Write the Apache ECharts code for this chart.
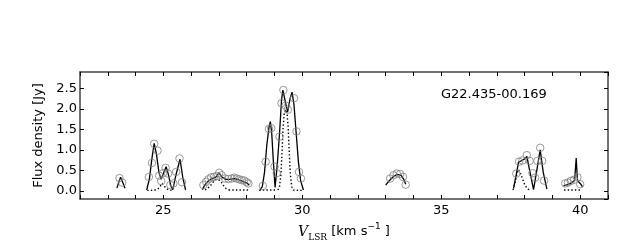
<!DOCTYPE html>
<html>
<head>
<meta charset="utf-8">
<script src="https://cdn.jsdelivr.net/npm/echarts@6/dist/echarts.min.js"></script>
<style>html,body{margin:0;padding:0;background:#fff;}#c{width:640px;height:240px;}</style>
</head>
<body>
<div id="c"></div>
<script>
// Observed spectrum channels (gray circles): [V_LSR km/s, flux Jy]
const obsG1 = [[23.42,0.31],[23.52,0.20]];
const obsG2 = [[24.48,0.34],[24.59,0.68],[24.67,1.15],[24.79,0.98],[24.85,0.37],[24.92,0.24],[24.99,0.43],[25.08,0.56],[25.17,0.42],[25.25,0.14],[25.36,0.18],[25.46,0.46],[25.58,0.79],[25.67,0.21]];
const obsG3 = [[26.44,0.14],[26.54,0.22],[26.62,0.28],[26.72,0.33],[26.82,0.34],[26.92,0.36],[27.01,0.44],[27.10,0.38],[27.22,0.30],[27.34,0.29],[27.46,0.30],[27.55,0.32],[27.64,0.30],[27.73,0.28],[27.82,0.26],[27.91,0.25],[28.00,0.21],[28.06,0.18]];
const obsG4 = [[28.58,0.12],[28.68,0.71],[28.80,1.51],[28.88,1.53],[29.00,0.59],[29.08,0.43],[29.18,1.32],[29.25,2.14],[29.32,2.46],[29.40,2.08],[29.48,1.98],[29.70,2.26],[29.79,1.45],[29.88,0.46],[29.95,0.30]];
const obsG5 = [[33.16,0.30],[33.28,0.38],[33.40,0.42],[33.52,0.41],[33.62,0.34],[33.72,0.15]];
const obsG6 = [[37.70,0.42],[37.80,0.71],[37.92,0.74],[38.08,0.87],[38.18,0.73],[38.28,0.43],[38.38,0.32],[38.46,0.73],[38.56,1.05],[38.63,0.73],[38.70,0.25]];
const obsG7 = [[39.46,0.18],[39.56,0.20],[39.66,0.24],[39.78,0.27],[39.90,0.33],[40.00,0.16]];

// Gaussian fit (solid black)
const fitG1 = [[23.33,0.07],[23.40,0.22],[23.46,0.33],[23.53,0.22],[23.62,0.06]];
const fitG2 = [[24.40,0.02],[24.50,0.30],[24.58,0.75],[24.67,1.16],[24.75,0.90],[24.84,0.45],[24.92,0.28],[25.00,0.42],[25.10,0.59],[25.18,0.40],[25.27,0.12],[25.34,0.03],[25.45,0.38],[25.60,0.77],[25.70,0.32],[25.80,0.02]];
const fitG3 = [[26.40,0.03],[26.50,0.15],[26.62,0.24],[26.75,0.30],[26.88,0.33],[27.00,0.44],[27.12,0.33],[27.25,0.28],[27.40,0.28],[27.55,0.30],[27.70,0.27],[27.85,0.23],[28.00,0.19],[28.09,0.14]];
const fitG4 = [[28.48,0.02],[28.56,0.10],[28.64,0.45],[28.72,1.10],[28.80,1.55],[28.85,1.69],[28.90,1.40],[28.96,0.70],[29.02,0.08],[29.10,0.65],[29.18,1.40],[29.25,2.20],[29.30,2.46],[29.38,2.20],[29.47,1.92],[29.56,2.25],[29.63,2.41],[29.70,2.10],[29.78,1.40],[29.86,0.70],[29.94,0.25],[30.04,0.02]];
const fitG5 = [[33.00,0.14],[33.12,0.24],[33.25,0.33],[33.40,0.40],[33.55,0.38],[33.65,0.28],[33.72,0.16]];
const fitG6 = [[37.60,0.06],[37.70,0.40],[37.78,0.70],[37.90,0.74],[38.00,0.78],[38.08,0.84],[38.18,0.50],[38.32,0.03],[38.45,0.55],[38.56,1.00],[38.67,0.45],[38.80,0.04]];
const fitG7 = [[39.40,0.12],[39.55,0.15],[39.70,0.20],[39.80,0.26],[39.855,0.80],[39.90,0.25],[40.00,0.18],[40.08,0.10]];

// Individual components (dotted black)
const compG2 = [[24.42,0.01],[24.55,0.01],[24.70,0.02],[24.80,0.04],[24.88,0.10],[24.95,0.18],[25.02,0.14],[25.10,0.06],[25.20,0.02],[25.33,0.01]];
const compG3a = [[26.50,0.02],[26.60,0.06],[26.70,0.13],[26.80,0.22],[26.90,0.28],[26.97,0.30],[27.05,0.25],[27.15,0.14],[27.25,0.06],[27.35,0.02]];
const compG3b = [[27.35,0.02],[27.60,0.02],[27.80,0.02],[28.00,0.02],[28.10,0.02]];
const compG4a = [[28.45,0.01],[28.60,0.02],[28.75,0.02],[28.90,0.02],[29.05,0.02]];
const compG4b = [[29.12,0.02],[29.18,0.10],[29.23,0.40],[29.27,0.95],[29.31,1.55],[29.35,1.90],[29.40,1.98],[29.45,1.90],[29.49,1.55],[29.53,0.95],[29.57,0.40],[29.62,0.10],[29.68,0.02],[29.85,0.01],[30.04,0.01]];
const compG6 = [[37.58,0.02],[37.64,0.15],[37.70,0.35],[37.77,0.52],[37.84,0.45],[37.92,0.30],[38.00,0.15],[38.10,0.05],[38.20,0.01]];
const compG7 = [[39.42,0.02],[39.60,0.02],[39.80,0.02],[40.05,0.02]];

const sourceName = 'G22.435-00.169';
const xRange = [22, 41];
const yRange = [-0.2, 2.9];

const obsAll = [].concat(obsG1, obsG2, obsG3, obsG4, obsG5, obsG6, obsG7);
const fitGroups = [fitG1, fitG2, fitG3, fitG4, fitG5, fitG6, fitG7];
const compGroups = [compG2, compG3a, compG3b, compG4a, compG4b, compG6, compG7];

const FONT = 'DejaVu Sans';
const chart = echarts.init(document.getElementById('c'), null, {renderer: 'canvas'});

const axisLineStyle = {color: '#444', width: 1.5};
const tickStyle = {color: '#000', width: 1};

const series = [];
compGroups.forEach(d => series.push({
  type: 'line', data: d, xAxisIndex: 0, yAxisIndex: 0, showSymbol: false, silent: true,
  lineStyle: {color: '#000', width: 1.4, type: [1.4, 2.2]}, z: 2
}));
fitGroups.forEach(d => series.push({
  type: 'line', data: d, xAxisIndex: 0, yAxisIndex: 0, showSymbol: false, silent: true,
  lineStyle: {color: '#000', width: 1.3}, z: 3
}));
series.push({
  type: 'scatter', data: obsAll, xAxisIndex: 0, yAxisIndex: 0, symbol: 'circle', symbolSize: 7.5,
  itemStyle: {color: 'rgba(0,0,0,0)', borderColor: '#808080', borderWidth: 1}, z: 4
});

chart.setOption({
  animation: false,
  title: {
    text: sourceName, left: 441, top: 88, padding: 0,
    textStyle: {fontSize: 13, fontWeight: 'normal', fontFamily: FONT, color: '#000'}
  },
  grid: {left: 80, top: 72, width: 528, height: 127, containLabel: false, outerBoundsMode: 'none'},
  xAxis: [{
    type: 'value', min: xRange[0], max: xRange[1], interval: 1, position: 'bottom',
    axisLine: {onZero: false, lineStyle: axisLineStyle},
    axisTick: {inside: true, length: 4, lineStyle: tickStyle},
    axisLabel: {formatter: v => (v % 5 === 0 ? String(v) : ''), margin: 5, fontSize: 13, fontFamily: FONT, color: '#000'},
    splitLine: {show: false},
    name: '{v|V}{s|LSR}{t| [km s}{p|\u22121}{t| ]}',
    nameLocation: 'middle', nameGap: 16,
    nameTextStyle: {
      rich: {
        v: {fontFamily: 'DejaVu Serif', fontStyle: 'italic', fontSize: 14, color: '#000', lineHeight: 20},
        s: {fontFamily: 'DejaVu Serif', fontSize: 9, color: '#000', lineHeight: 20, verticalAlign: 'bottom'},
        t: {fontFamily: FONT, fontSize: 13, color: '#000', lineHeight: 20},
        p: {fontFamily: FONT, fontSize: 9, color: '#000', lineHeight: 20, verticalAlign: 'top'}
      }
    }
  }, {
    type: 'value', min: xRange[0], max: xRange[1], interval: 1, position: 'top',
    axisLine: {onZero: false, lineStyle: axisLineStyle},
    axisTick: {inside: true, length: 4, lineStyle: tickStyle},
    axisLabel: {show: false}, splitLine: {show: false}
  }],
  yAxis: [{
    type: 'value', min: yRange[0], max: yRange[1], splitNumber: 5, position: 'left',
    axisLine: {show: true, onZero: false, lineStyle: axisLineStyle},
    axisTick: {show: true, inside: true, length: 4, lineStyle: tickStyle},
    axisLabel: {formatter: v => v.toFixed(1), showMinLabel: false, showMaxLabel: false, margin: 3, fontSize: 13, fontFamily: FONT, color: '#000'},
    splitLine: {show: false},
    name: 'Flux density [Jy]', nameLocation: 'middle', nameGap: 25, nameRotate: 90,
    nameTextStyle: {fontSize: 13, fontFamily: FONT, color: '#000'}
  }, {
    type: 'value', min: yRange[0], max: yRange[1], splitNumber: 5, position: 'right',
    axisLine: {show: true, onZero: false, lineStyle: axisLineStyle},
    axisTick: {show: true, inside: true, length: 4, lineStyle: tickStyle},
    axisLabel: {show: false}, splitLine: {show: false}
  }],
  series: series
});
</script>
</body>
</html>
